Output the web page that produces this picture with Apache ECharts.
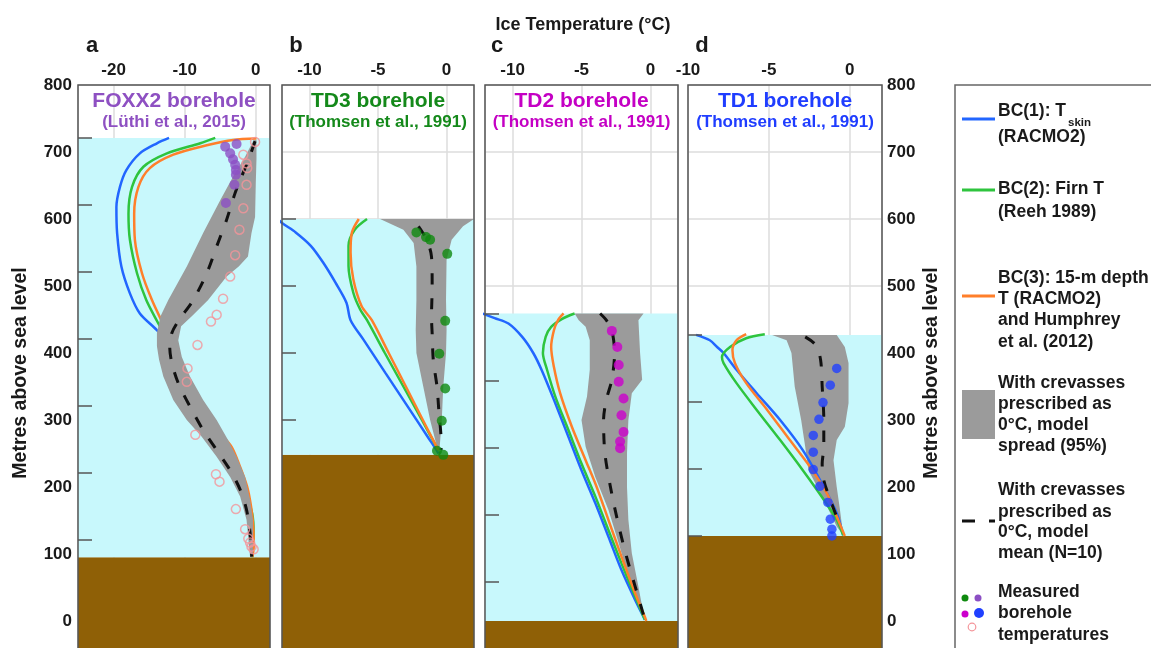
<!DOCTYPE html>
<html><head><meta charset="utf-8">
<script src="https://cdn.jsdelivr.net/npm/echarts@6/dist/echarts.min.js"></script>
<style>html,body{margin:0;padding:0;background:#fff}#c{width:1151px;height:648px}</style>
</head><body><div id="c"></div>
<script>
// ---------- panel descriptors ----------
const panelLetters = ['a', 'b', 'c', 'd'];
const panelNames = ['FOXX2 borehole', 'TD3 borehole', 'TD2 borehole', 'TD1 borehole'];
const panelRefs = ['(Lüthi et al., 2015)', '(Thomsen et al., 1991)', '(Thomsen et al., 1991)', '(Thomsen et al., 1991)'];
const panelColors = ['#8e50c2', '#14891a', '#c400c4', '#1f3dff'];
const measuredColors = ['#8c4fc4', '#0f8a0f', '#cc00cc', '#2040ff'];
const xMin = [-25, -12, -12, -10];
const xMax = [2, 2, 2, 2];
const xStep = [10, 5, 5, 5];
const yMin = -100, yMax = 800, yStep = 100;
const iceSurface = [721, 600, 459, 427];
const bedElev = [95, 248, 0, 127];

// ---------- BC(1) T_skin (blue) ----------
const tskinA = [[-12.2,721],[-13.9,713],[-16.3,698],[-18.2,673],[-19.1,648],[-19.6,618],[-19.5,579],[-18.9,529],[-17.7,489],[-16.3,459],[-13.9,434],[-12.5,415]];
const tskinB = [[-12.3,600],[-12.0,594],[-11.0,580],[-9.9,560],[-9.0,535],[-8.1,505],[-7.3,475],[-7.0,449],[-6.06,420],[-4.45,370],[-2.83,320],[-1.38,275],[-0.73,255],[-0.6,250]];
const tskinC = [[-12.2,459],[-11.3,452],[-10.3,444],[-9.3,424],[-8.5,400],[-7.9,375],[-6.9,325],[-5.95,275],[-5.0,225],[-4.0,176],[-3.05,126],[-2.1,76],[-1.1,31],[-0.4,2]];
const tskinD = [[-9.5,427],[-8.65,419],[-8.2,409],[-7.8,400],[-7.0,375],[-5.75,340],[-4.3,300],[-2.9,255],[-1.6,200],[-0.8,161],[-0.4,128]];
// ---------- BC(2) Firn T (green) ----------
const firnA = [[-5.7,721],[-7.8,713],[-12.5,698],[-15.8,678],[-17.4,648],[-17.9,608],[-17.7,569],[-16.7,519],[-15.4,479],[-13.7,444],[-12.5,420],[-9,350],[-5,280],[-2,210],[-0.5,160],[-0.3,130],[-0.5,95]];
const firnB = [[-5.8,600],[-6.7,584],[-7.15,560],[-7.15,530],[-6.8,490],[-6.3,465],[-5.8,449],[-4.5,400],[-3.15,350],[-1.8,300],[-0.6,255]];
const firnC = [[-5.5,459],[-6.4,451],[-7.2,439],[-7.6,424],[-7.8,400],[-7.5,375],[-6.9,335],[-5.95,285],[-5.0,235],[-4.0,186],[-3.05,136],[-2.1,86],[-1.1,36],[-0.4,2]];
const firnD = [[-5.25,428],[-6.4,422],[-7.4,409],[-7.9,394],[-7.8,385],[-7.0,355],[-5.75,315],[-4.3,270],[-2.9,225],[-1.6,181],[-0.8,151],[-0.4,128]];
// ---------- BC(3) 15-m depth T (orange) ----------
const depth15A = [[0.1,720],[-3.2,718],[-6.9,710],[-11.6,696],[-14.9,676],[-16.5,648],[-17.1,608],[-17.0,569],[-16.0,519],[-14.6,479],[-13.2,447],[-12,420],[-10.5,380],[-8,320],[-5,280],[-3.4,260],[-2.2,230],[-1.2,200],[-0.65,170],[-0.35,140],[-0.3,110],[-0.5,95]];
const depth15B = [[-6.4,600],[-6.9,580],[-7.0,550],[-6.8,510],[-6.2,470],[-5.45,449],[-4.22,400],[-2.97,350],[-1.73,300],[-0.6,255]];
const depth15C = [[-6.3,459],[-6.7,449],[-7.0,434],[-7.2,409],[-7.0,379],[-6.55,340],[-5.7,290],[-4.7,240],[-3.9,200],[-3.05,151],[-2.1,96],[-1.1,41],[-0.4,6],[-0.3,0]];
const depth15D = [[-6.4,428],[-7.0,419],[-7.25,404],[-7.1,385],[-6.4,355],[-5.1,315],[-3.7,270],[-2.45,230],[-1.4,190],[-0.8,156],[-0.3,127]];
// ---------- model spread (95%) cold and warm edges ----------
const spreadColdA = [[-0.3,718],[-1.5,693],[-3.2,663],[-5.0,628],[-7.4,579],[-9.7,529],[-12.3,479],[-13.4,455],[-13.9,430],[-13.9,410],[-13.6,390],[-13.0,365],[-11.6,330],[-9.7,300],[-7.6,275],[-5.5,245],[-3.6,215],[-2.2,186],[-1.3,151],[-0.8,95]];
const spreadWarmA = [[0.1,718],[0.1,690],[0.0,653],[-0.1,603],[-0.6,579],[-1.1,544],[-2.4,529],[-4.1,514],[-6.7,479],[-9.0,455],[-10.5,440],[-10.9,419],[-10.4,394],[-9.25,365],[-7.4,330],[-5.5,300],[-3.9,270],[-2.7,245],[-1.5,215],[-0.8,181],[-0.4,151],[-0.4,101],[-0.5,95]];
const spreadColdB = [[-4.85,600],[-3.15,584],[-2.4,564],[-2.2,529],[-2.2,479],[-2.25,434],[-2.2,400],[-1.7,350],[-1.2,300],[-0.7,260],[-0.5,248]];
const spreadWarmB = [[2.0,600],[1.2,589],[0.37,569],[0.0,539],[-0.04,479],[0.0,434],[-0.04,400],[-0.24,350],[-0.35,300],[-0.5,260],[-0.5,248]];
const spreadColdC = [[-5.5,459],[-5.2,449],[-4.7,439],[-4.4,419],[-4.4,375],[-4.6,335],[-5.0,300],[-4.7,260],[-4.0,215],[-3.05,166],[-2.3,116],[-1.6,66],[-0.87,26],[-0.4,0]];
const spreadWarmC = [[-0.5,459],[-0.87,449],[-0.75,400],[-0.6,360],[-1.35,340],[-1.6,300],[-1.7,250],[-1.7,200],[-1.6,151],[-1.35,101],[-0.87,51],[-0.4,0]];
const spreadColdD = [[-4.8,427],[-3.9,419],[-3.6,400],[-3.4,350],[-3.0,300],[-2.75,260],[-2.55,225],[-2.0,200],[-1.4,171],[-0.8,141],[-0.4,128]];
const spreadWarmD = [[-0.8,427],[-0.3,409],[-0.07,385],[-0.07,325],[-0.3,290],[-0.8,270],[-1.0,240],[-0.8,200],[-0.6,166],[-0.4,128]];
// ---------- model mean (N=10) ----------
const meanA = [[-0.1,716],[-1.05,688],[-2.2,658],[-2.9,639],[-4.1,599],[-5.5,559],[-6.9,519],[-8.8,479],[-10.8,449],[-11.8,430],[-12.1,409],[-11.8,385],[-10.9,355],[-9.25,320],[-7.4,285],[-5.5,255],[-3.6,225],[-2.2,196],[-1.3,166],[-0.8,131],[-0.57,96]];
const meanB = [[-2.05,589],[-1.45,569],[-1.1,544],[-1.05,499],[-1.1,454],[-1.05,429],[-0.97,390],[-0.7,350],[-0.55,310],[-0.4,270],[-0.4,255]];
const meanC = [[-3.65,459],[-3.2,449],[-2.8,434],[-2.6,400],[-2.8,360],[-3.2,330],[-3.4,300],[-3.3,250],[-2.9,200],[-2.4,151],[-1.8,101],[-1.1,51],[-0.4,2]];
const meanD = [[-2.75,424],[-2.1,412],[-1.8,390],[-1.7,350],[-1.6,300],[-1.6,260],[-1.7,235],[-1.6,210],[-1.2,181],[-0.8,156],[-0.5,143]];
// ---------- measured borehole temperatures ----------
const measuredA = [[-4.3,708],[-2.7,712],[-3.6,698],[-3.2,689],[-2.9,681],[-2.8,673],[-2.8,666],[-3.0,651],[-4.2,624]];
const measuredAOpen = [[-0.1,715],[-1.75,696],[-1.3,683],[-1.2,676],[-1.3,651],[-1.75,616],[-2.3,584],[-2.9,546],[-3.6,514],[-4.6,481],[-5.5,457],[-6.3,447],[-8.2,412],[-9.6,377],[-9.7,357],[-8.5,278],[-5.6,219],[-5.1,208],[-2.8,167],[-1.5,137],[-1.05,123],[-0.8,117],[-0.6,111],[-0.3,107]];
const measuredB = [[-2.2,580],[-1.5,573],[-1.2,569],[0.05,548],[-0.1,448],[-0.53,399],[-0.1,347],[-0.35,299],[-0.7,254],[-0.24,248]];
const measuredC = [[-2.8,433],[-2.4,409],[-2.3,382],[-2.3,357],[-1.95,332],[-2.1,307],[-1.95,282],[-2.2,268],[-2.2,258]];
const measuredD = [[-0.8,377],[-1.2,352],[-1.65,326],[-1.9,301],[-2.25,277],[-2.25,252],[-2.25,226],[-1.85,201],[-1.35,177],[-1.2,152],[-1.1,137],[-1.1,127]];

const tskin = [tskinA, tskinB, tskinC, tskinD];
const firn = [firnA, firnB, firnC, firnD];
const depth15 = [depth15A, depth15B, depth15C, depth15D];
const spreadCold = [spreadColdA, spreadColdB, spreadColdC, spreadColdD];
const spreadWarm = [spreadWarmA, spreadWarmB, spreadWarmC, spreadWarmD];
const meanT = [meanA, meanB, meanC, meanD];
const measured = [measuredA, measuredB, measuredC, measuredD];

// ---------- styling ----------
const FONT = '"Liberation Sans", Arial, Helvetica, sans-serif';
const gridLeft = [78, 282, 485, 688];
const gridWidth = [192, 192, 193, 194];
const C_BLUE = '#2266ff', C_GREEN = '#2ec43e', C_ORANGE = '#ff7f2a';
const C_ICE = '#c8f8fc', C_BED = '#8f6006', C_SPREAD = '#9b9b9b';

function depthTicks(i) {
  const v = [];
  for (let e = iceSurface[i]; e >= bedElev[i] - 1; e -= 100) v.push(e);
  return v;
}
function polySeries(i, pts, color, z) {
  return {
    type: 'custom', coordinateSystem: 'cartesian2d', xAxisIndex: i, yAxisIndex: 2 * i,
    silent: true, z: z, animation: false, data: [pts[0]],
    renderItem: function (params, api) {
      return { type: 'polygon', shape: { points: pts.map(p => api.coord(p)) }, style: { fill: color } };
    }
  };
}
function lineSeries(i, data, color, z) {
  return { type: 'line', xAxisIndex: i, yAxisIndex: 2 * i, data: data, symbol: 'none', smooth: 0.3,
    silent: true, z: z, animation: false, lineStyle: { color: color, width: 2.5 } };
}

const grids = [], xAxes = [], yAxes = [], series = [];
for (let i = 0; i < 4; i++) {
  grids.push({ left: gridLeft[i], width: gridWidth[i], top: 85, height: 603, show: true, z: 10,
    borderColor: '#555', borderWidth: 1.5, backgroundColor: 'rgba(0,0,0,0)',
    containLabel: false, outerBoundsMode: 'none' });
  xAxes.push({ gridIndex: i, type: 'value', position: 'top', min: xMin[i], max: xMax[i],
    minInterval: xStep[i], maxInterval: xStep[i],
    axisLine: { show: false }, axisTick: { show: false },
    axisLabel: { margin: 6, showMinLabel: (xMin[i] % xStep[i] === 0), showMaxLabel: false,
      fontSize: 17, fontWeight: 'bold', color: '#1a1a1a', fontFamily: FONT },
    splitLine: { show: true, lineStyle: { color: '#dcdcdc', width: 1.5 } } });
  yAxes.push({ gridIndex: i, type: 'value', min: yMin, max: yMax, interval: yStep,
    position: i === 3 ? 'right' : 'left',
    axisLine: { show: false }, axisTick: { show: false },
    axisLabel: { show: i === 0 || i === 3, margin: i === 3 ? 5 : 6, showMinLabel: false,
      fontSize: 17, fontWeight: 'bold', color: '#1a1a1a', fontFamily: FONT },
    splitLine: { show: true, lineStyle: { color: '#dcdcdc', width: 1.5 } } });
  yAxes.push({ gridIndex: i, type: 'value', min: yMin, max: yMax, position: 'left', z: 11,
    axisLine: { show: false }, axisLabel: { show: false }, splitLine: { show: false },
    axisTick: { show: true, inside: true, length: 14, customValues: depthTicks(i),
      lineStyle: { color: '#555', width: 1.5 } } });

  // bedrock and ice
  series.push(polySeries(i, [[xMin[i], yMin], [xMax[i], yMin], [xMax[i], bedElev[i]], [xMin[i], bedElev[i]]], C_BED, 1));
  series.push(polySeries(i, [[xMin[i], bedElev[i]], [xMax[i], bedElev[i]], [xMax[i], iceSurface[i]], [xMin[i], iceSurface[i]]], C_ICE, 1));
  // spread band (above the BC lines in panel a, below them elsewhere)
  const bandZ = i === 0 ? 4 : 2;
  series.push(polySeries(i, spreadCold[i].concat(spreadWarm[i].slice().reverse()), C_SPREAD, bandZ));
  series.push(lineSeries(i, tskin[i], C_BLUE, 3));
  series.push(lineSeries(i, firn[i], C_GREEN, 3));
  series.push(lineSeries(i, depth15[i], C_ORANGE, 3));
  series.push({ type: 'line', xAxisIndex: i, yAxisIndex: 2 * i, data: meanT[i], symbol: 'none', smooth: 0.3,
    silent: true, z: 5, animation: false,
    lineStyle: { color: '#111', width: 3, type: [11, 14], cap: 'butt' } });
  if (i === 0) {
    series.push({ type: 'scatter', xAxisIndex: 0, yAxisIndex: 0, data: measuredAOpen, symbol: 'circle',
      symbolSize: 9, silent: true, z: 6, animation: false,
      itemStyle: { color: 'rgba(0,0,0,0)', borderColor: '#f4959a', borderWidth: 1.5 } });
  }
  series.push({ type: 'scatter', xAxisIndex: i, yAxisIndex: 2 * i, data: measured[i], symbol: 'circle',
    symbolSize: i === 3 ? 9.5 : 10, silent: true, z: 7, animation: false,
    itemStyle: { color: measuredColors[i] } });
}

// ---------- text decorations and legend ----------
function txt(text, x, y, size, color, align, extra) {
  return Object.assign({ type: 'text', x: x, y: y, z: 20, silent: true,
    style: { text: text, fill: color || '#1a1a1a', fontSize: size, fontWeight: 'bold', fontFamily: FONT,
      align: align || 'left', verticalAlign: 'middle' } }, extra || {});
}
const panelCenters = gridLeft.map((l, i) => l + gridWidth[i] / 2);
const letterX = [92, 296, 497, 702];
const elements = [];
elements.push(txt('Ice Temperature (°C)', 583, 25, 18, '#1a1a1a', 'center'));
for (let i = 0; i < 4; i++) {
  elements.push(txt(panelLetters[i], letterX[i], 46, 22, '#1a1a1a', 'center'));
  elements.push(txt(panelNames[i], panelCenters[i], 101, 21, panelColors[i], 'center'));
  elements.push(txt(panelRefs[i], panelCenters[i], 122, 17, panelColors[i], 'center'));
}
elements.push(txt('Metres above sea level', 21, 373, 19.5, '#1a1a1a', 'center', { rotation: Math.PI / 2 }));
elements.push(txt('Metres above sea level', 932, 373, 19.5, '#1a1a1a', 'center', { rotation: Math.PI / 2 }));

// legend frame
elements.push({ type: 'rect', z: 20, silent: true, shape: { x: 955, y: 85, width: 300, height: 700 },
  style: { fill: 'none', stroke: '#666', lineWidth: 1.5 } });
const LX = 998, LS = 17.5;
elements.push({ type: 'line', z: 20, silent: true, shape: { x1: 962, y1: 119, x2: 995, y2: 119 }, style: { stroke: C_BLUE, lineWidth: 3 } });
elements.push(txt('BC(1): T', LX, 111, LS));
elements.push(txt('skin', 1068, 123, 11.5));
elements.push(txt('(RACMO2)', LX, 137, LS));
elements.push({ type: 'line', z: 20, silent: true, shape: { x1: 962, y1: 190, x2: 995, y2: 190 }, style: { stroke: C_GREEN, lineWidth: 3 } });
elements.push(txt('BC(2): Firn T', LX, 189, LS));
elements.push(txt('(Reeh 1989)', LX, 212, LS));
elements.push({ type: 'line', z: 20, silent: true, shape: { x1: 962, y1: 296, x2: 995, y2: 296 }, style: { stroke: C_ORANGE, lineWidth: 3 } });
elements.push(txt('BC(3): 15-m depth', LX, 278, LS));
elements.push(txt('T (RACMO2)', LX, 299, LS));
elements.push(txt('and Humphrey', LX, 320, LS));
elements.push(txt('et al. (2012)', LX, 342, LS));
elements.push({ type: 'rect', z: 20, silent: true, shape: { x: 962, y: 390, width: 33, height: 49 }, style: { fill: C_SPREAD } });
elements.push(txt('With crevasses', LX, 383, LS));
elements.push(txt('prescribed as', LX, 404, LS));
elements.push(txt('0°C, model', LX, 425, LS));
elements.push(txt('spread (95%)', LX, 446, LS));
elements.push({ type: 'line', z: 20, silent: true, shape: { x1: 962, y1: 521, x2: 995, y2: 521 }, style: { stroke: '#111', lineWidth: 3, lineDash: [13, 14] } });
elements.push(txt('With crevasses', LX, 490, LS));
elements.push(txt('prescribed as', LX, 512, LS));
elements.push(txt('0°C, model', LX, 532, LS));
elements.push(txt('mean (N=10)', LX, 553, LS));
elements.push({ type: 'circle', z: 20, silent: true, shape: { cx: 965, cy: 598, r: 3.5 }, style: { fill: measuredColors[1] } });
elements.push({ type: 'circle', z: 20, silent: true, shape: { cx: 978, cy: 598, r: 3.5 }, style: { fill: measuredColors[0] } });
elements.push({ type: 'circle', z: 20, silent: true, shape: { cx: 965, cy: 614, r: 3.5 }, style: { fill: measuredColors[2] } });
elements.push({ type: 'circle', z: 20, silent: true, shape: { cx: 979, cy: 613, r: 5 }, style: { fill: measuredColors[3] } });
elements.push({ type: 'circle', z: 20, silent: true, shape: { cx: 972, cy: 627, r: 3.8 }, style: { fill: 'none', stroke: '#f4959a', lineWidth: 1.2 } });
elements.push(txt('Measured', LX, 592, LS));
elements.push(txt('borehole', LX, 613, LS));
elements.push(txt('temperatures', LX, 635, LS));

const chart = echarts.init(document.getElementById('c'), null, { renderer: 'canvas' });
chart.setOption({
  backgroundColor: '#ffffff',
  animation: false,
  grid: grids, xAxis: xAxes, yAxis: yAxes, series: series,
  graphic: { elements: elements }
});
</script></body></html>
